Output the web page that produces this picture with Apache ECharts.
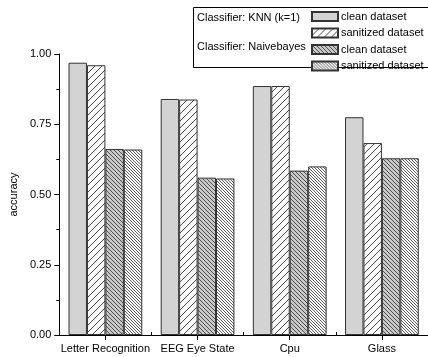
<!DOCTYPE html>
<html>
<head>
<meta charset="utf-8">
<script src="https://cdn.jsdelivr.net/npm/echarts@6/dist/echarts.min.js"></script>
<style>html,body{margin:0;padding:0;background:#fff}#c{width:428px;height:357px}</style>
</head>
<body>
<div id="c"></div>
<script>
const categories = ['Letter Recognition', 'EEG Eye State', 'Cpu', 'Glass'];
const knnClean = [0.969, 0.840, 0.886, 0.775];
const knnSanitized = [0.960, 0.838, 0.886, 0.683];
const nbClean = [0.662, 0.560, 0.585, 0.629];
const nbSanitized = [0.660, 0.557, 0.600, 0.629];
const yTicks = ['0.00', '0.25', '0.50', '0.75', '1.00'];
const seriesNames = ['knnClean', 'knnSanitized', 'nbClean', 'nbSanitized'];
const legendLabels = ['clean dataset', 'sanitized dataset', 'clean dataset', 'sanitized dataset'];
const classifierLabels = ['Classifier: KNN (k=1)', 'Classifier: Naivebayes'];

function hatch(bg, dir, s, lw, col) {
  const c = document.createElement('canvas');
  c.width = s; c.height = s;
  const g = c.getContext('2d');
  g.fillStyle = bg; g.fillRect(0, 0, s, s);
  g.strokeStyle = col; g.lineWidth = lw;
  g.beginPath();
  for (let k = -1; k <= 1; k++) {
    if (dir === '/') { g.moveTo(k * s, s); g.lineTo(k * s + s, 0); }
    else { g.moveTo(k * s, 0); g.lineTo(k * s + s, s); }
  }
  g.stroke();
  return { image: c, repeat: 'repeat' };
}

const fills = [
  '#d3d3d3',
  hatch('#ffffff', '/', 7, 0.9, '#333'),
  hatch('#c8c8c8', '\\', 4, 0.8, '#333'),
  hatch('#ffffff', '\\', 3, 0.8, '#333')
];
const dataArr = [knnClean, knnSanitized, nbClean, nbSanitized];

const font = 'Liberation Sans, Arial, sans-serif';
const chart = echarts.init(document.getElementById('c'), null, { renderer: 'canvas' });
chart.setOption({
  animation: false,
  backgroundColor: '#fff',
  grid: { left: 56, top: 54, right: -8, bottom: 22 },
  legend: {
    data: seriesNames.map(n => ({ name: n, icon: 'rect' })),
    orient: 'vertical',
    left: 311, top: 11,
    itemWidth: 26, itemHeight: 9, itemGap: 5.5,
    textStyle: { fontFamily: font, fontSize: 11, color: '#000', padding: [0, 0, 0, -2] },
    formatter: n => legendLabels[seriesNames.indexOf(n)],
    selectedMode: false,
    padding: 0
  },
  graphic: [
    { type: 'rect', shape: { x: 193.5, y: 7.5, width: 260, height: 60 }, style: { fill: 'none', stroke: '#000', lineWidth: 1 }, silent: true, z: 0 },
    { type: 'text', left: 197, top: 12, style: { text: classifierLabels[0], font: '11px ' + font, fill: '#000' } },
    { type: 'text', left: 197, top: 41, style: { text: classifierLabels[1], font: '11px ' + font, fill: '#000' } }
  ],
  xAxis: [
    {
      type: 'category', data: categories,
      axisLine: { lineStyle: { color: '#000', width: 1 } },
      axisTick: { show: true, inside: true, length: 3, interval: 0, lineStyle: { color: '#000' } },
      axisLabel: { show: true, interval: 0, margin: 8, fontFamily: font, fontSize: 11, color: '#000' },
      splitLine: { show: false }
    },
    {
      type: 'category', data: categories, position: 'bottom',
      axisLine: { show: false },
      axisTick: { show: true, alignWithLabel: true, length: 5, interval: 0, lineStyle: { color: '#000' } },
      axisLabel: { show: false },
      splitLine: { show: false }
    }
  ],
  yAxis: {
    type: 'value', min: 0, max: 1, interval: 0.25,
    name: 'accuracy', nameLocation: 'middle', nameGap: 37,
    nameTextStyle: { fontFamily: font, fontSize: 11, color: '#000' },
    axisLine: { show: true, lineStyle: { color: '#000' } },
    axisTick: { show: true, length: 5, lineStyle: { color: '#000' } },
    minorTick: { show: true, splitNumber: 2, length: 3, lineStyle: { color: '#000' } },
    axisLabel: { fontFamily: font, fontSize: 11, color: '#000', margin: 8,
      formatter: v => yTicks[Math.round(v / 0.25)] },
    splitLine: { show: false }
  },
  series: seriesNames.map((n, i) => ({
    name: n, type: 'bar', data: dataArr[i],
    barGap: '0%', barCategoryGap: '20%',
    itemStyle: { color: fills[i], borderColor: '#333', borderWidth: 1 }
  }))
});
</script>
</body>
</html>
